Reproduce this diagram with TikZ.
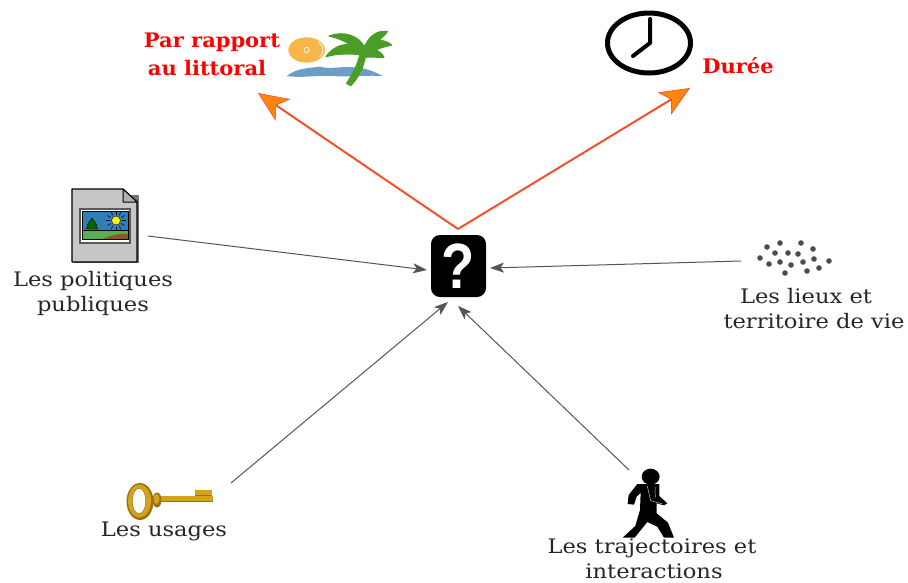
\documentclass[tikz,border=0pt]{standalone}
\usepackage{fontspec}
\setmainfont{DejaVu Serif}
\newfontfamily\qfont{Liberation Sans}
\usetikzlibrary{arrows.meta}
\definecolor{lineorange}{HTML}{F4502A}
\definecolor{headorange}{HTML}{FF8410}
\definecolor{linegray}{HTML}{555555}
\definecolor{palmgreen}{HTML}{4A9E28}
\definecolor{sunorange}{HTML}{F8B648}
\definecolor{seablue}{HTML}{6C9CC8}
\definecolor{keygold}{HTML}{D4A21C}
\definecolor{keydark}{HTML}{9A7410}
\definecolor{skyblue}{HTML}{2F80B8}
\definecolor{grassgreen}{HTML}{58B050}
\definecolor{hillbrown}{HTML}{8A5A20}
\tikzset{
  lab/.style={font=\fontsize{20}{22}\selectfont,text=black!85,inner sep=0pt,align=center,xscale=1.13},
  redlab/.style={font=\fontsize{20}{22}\selectfont\bfseries,text=red,inner sep=0pt,align=center,xscale=1.05},
  grayarrow/.style={draw=linegray,line width=1pt,-{Stealth[length=14pt,width=10pt,inset=3.5pt,fill=linegray]}},
  orangearrow/.style={draw=lineorange,line width=2pt,-{Stealth[length=30pt,width=26pt,inset=8pt,fill=headorange,line width=.6pt]}},
  dot/.style={fill=black!70,draw=none},
  frond/.style={fill=palmgreen,draw=palmgreen,line width=1.2pt,line join=round},
}
\begin{document}
\begin{tikzpicture}[x=1pt,y=-1pt]
\useasboundingbox (0,0) rectangle (908,582);
% centre icon
\fill[black,rounded corners=9pt] (431,235) rectangle (486,297);
\node[inner sep=0pt,text=white,font=\fontsize{64}{64}\selectfont\qfont\bfseries,xscale=.85] (q) at (458,266) {?};
\coordinate (apex) at (458,229);
\coordinate (ctop) at (258,93);
\coordinate (dtop) at (690,88);
\coordinate (pol) at (148,236);
\coordinate (polend) at (427,270);
\coordinate (lieu) at (741,261);
\coordinate (lieuend) at (490,268);
\coordinate (usa) at (231,483);
\coordinate (usaend) at (448,302);
\coordinate (tra) at (629,470);
\coordinate (traend) at (458,306);
\draw[orangearrow] (apex) -- (ctop);
\draw[orangearrow] (apex) -- (dtop);
\draw[grayarrow] (pol) -- (polend);
\draw[grayarrow] (lieu) -- (lieuend);
\draw[grayarrow] (usa) -- (usaend);
\draw[grayarrow] (tra) -- (traend);
% labels
\node[redlab] (lit1) at (212,42) {Par rapport};
\node[redlab] (lit2) at (207,68) {au littoral};
\node[redlab] (dur) at (738,66) {Durée};
\node[lab] (l1) at (93,281) {Les politiques};
\node[lab] (l2) at (93,306) {publiques};
\node[lab] (l3) at (806,296) {Les lieux et};
\node[lab] (l4) at (814,321) {territoire de vie};
\node[lab] (l5) at (164,531) {Les usages};
\node[lab] (l6) at (652,548) {Les trajectoires et};
\node[lab] (l7) at (654,571) {interactions};
% clock
\draw[black,line width=5pt] (649,43) ellipse [x radius=41.5pt,y radius=30pt];
\draw[black,line width=4pt,line cap=round,line join=round] (650,19) -- (650,43) -- (633,56);
% beach icon
\begin{scope}[shift={(130,0)},x=.3333pt,y=-.3333pt]
\fill[sunorange] (530,150) ellipse [x radius=55,y radius=38];
\draw[white,line width=.7pt] (530,150) circle [radius=8];
\draw[white,line width=.7pt] (565,125) arc [start angle=-60,end angle=50,radius=28];
\fill[seablue] (470,228) .. controls (500,205) and (530,205) .. (570,200) .. controls (600,210) and (640,195) .. (700,205) .. controls (725,212) and (745,220) .. (757,228) .. controls (700,225) and (660,232) .. (610,228) .. controls (560,225) and (510,235) .. (470,228) -- cycle;
\fill[frond] (650,250) .. controls (670,220) and (685,190) .. (692,155) -- (707,160) .. controls (705,195) and (685,235) .. (662,257) -- cycle;
\fill[frond] (700,165) .. controls (670,135) and (640,118) .. (597,108) .. controls (640,92) and (690,105) .. (708,150) -- cycle;
\fill[frond] (695,165) .. controls (665,160) and (620,160) .. (588,170) .. controls (620,125) and (675,125) .. (705,148) -- cycle;
\fill[frond] (700,150) .. controls (715,105) and (745,90) .. (772,95) .. controls (755,118) and (725,135) .. (708,160) -- cycle;
\fill[frond] (702,150) .. controls (725,115) and (760,115) .. (785,135) .. controls (755,142) and (730,150) .. (710,165) -- cycle;
\fill[frond] (700,155) .. controls (725,140) and (750,150) .. (762,172) .. controls (740,172) and (720,170) .. (702,172) -- cycle;
\end{scope}
% document icon
\fill[black!55] (74,195) rectangle (139,263);
\filldraw[fill=black!22,draw=black,line width=1.2pt,line join=round] (72,189) -- (123,189) -- (137,202) -- (137,262) -- (72,262) -- cycle;
\filldraw[fill=black!30,draw=black,line width=1pt,line join=round] (123,189) -- (123,202) -- (137,202) -- cycle;
\fill[black!65] (79,208) rectangle (131,244);
\fill[white] (81,210) rectangle (129,242);
\fill[black] (82,211) rectangle (129,240);
\fill[skyblue] (83,212) rectangle (128,229.5);
\fill[grassgreen] (83,231) rectangle (128,239);
\fill[hillbrown] (102,239) .. controls (110,236) and (118,233) .. (128,234) -- (128,239) -- cycle;
\filldraw[fill=green!40!black,draw=black,line width=.4pt] (92,218) -- (97,225) -- (95.5,225) -- (98,229) -- (86,229) -- (88.5,225) -- (87,225) -- cycle;
\foreach \a in {0,30,...,330}{\draw[black,line width=.5pt] (116,220.5) ++(\a:6) -- ++(\a:4);}
\filldraw[fill=yellow,draw=black,line width=.4pt] (116,220.5) circle [radius=4.5pt];
% dots
\foreach \px/\py in {767/247,780/243,801/243,813/249,775/253,788/253,798/254,760/258,814/259,829/261,769/264,780/262,791/265,803/262,819/268,807/271,785/273}
  \fill[dot] (\px,\py) circle [radius=2.8pt];
% key
\fill[keygold] (153,496) rectangle (213,502);
\fill[keydark] (153,501) rectangle (213,502);
\fill[keygold] (195,490) rectangle (212,496);
\fill[keydark] (195,494.5) rectangle (212,495.5);
\fill[keydark] (157,500) ellipse [x radius=4.5,y radius=7.5];
\fill[keygold] (156.5,499) ellipse [x radius=3,y radius=5];
\fill[keydark,even odd rule] (140,501.5) ellipse [x radius=13.5,y radius=18.5] (139,501) ellipse [x radius=6.5,y radius=12.5];
\fill[keygold,even odd rule] (139.5,501) ellipse [x radius=11.5,y radius=16.5] (139,501) ellipse [x radius=7,y radius=13];
% walker
\begin{scope}[shift={(540,460)},x=.3333pt,y=-.3333pt]
\fill[black] (332,50) ellipse [x radius=27,y radius=24];
\fill[black] (292,72) -- (266,105) -- (263,132) -- (282,134) -- (290,110) -- (302,98) -- (300,150) -- (286,198) -- (248,233) -- (284,233) -- (322,186) -- (352,200) -- (372,233) -- (402,233) -- (384,188) -- (350,160) -- (350,130) -- (372,136) -- (382,130) -- (358,108) -- (358,72) -- cycle;
\draw[white!75!black,line width=.5pt] (322,78) -- (332,122) -- (368,132);
\draw[white!75!black,line width=.5pt] (345,80) -- (346,112);
\end{scope}
\end{tikzpicture}
\end{document}
